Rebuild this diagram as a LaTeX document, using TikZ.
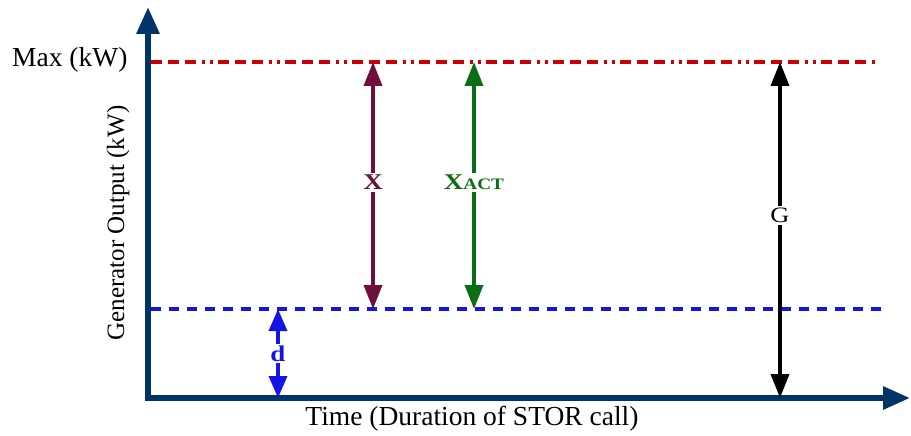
\documentclass[tikz,border=0pt]{standalone}
\usepackage{fontspec}
\setmainfont{Liberation Serif}
\usetikzlibrary{arrows.meta}
\definecolor{axisblue}{RGB}{0,51,102}
\definecolor{maxred}{RGB}{204,0,0}
\definecolor{baseblue}{RGB}{20,20,230}
\definecolor{xmaroon}{RGB}{110,15,60}
\definecolor{xgreen}{RGB}{10,110,20}
\tikzset{
  axisline/.style={line width=6pt, axisblue, -{Triangle[length=27pt,width=22pt]}},
  dimarrow/.style={line width=3.6pt, {Triangle[length=24pt,width=18pt]}-{Triangle[length=24pt,width=18pt]}},
  dimlabel/.style={fill=white, inner sep=2pt, xscale=1.2, font=\fontsize{22.5}{24}\selectfont\bfseries},
  axistext/.style={font=\fontsize{27.5}{30}\selectfont},
}
\begin{document}
\begin{tikzpicture}[x=1pt,y=-1pt]
\useasboundingbox (0,0) rectangle (911,436);
% axes
\coordinate (origin) at (148,398);
\coordinate (ytop) at (148,7);
\coordinate (xend) at (910,398);
\draw[axisline] ([yshift=-3pt]origin) -- (ytop);
\draw[axisline] ([xshift=-3pt]origin) -- (xend);
% reference levels
\coordinate (maxL) at (151,62);
\coordinate (maxR) at (880,62);
\coordinate (baseL) at (151,309);
\coordinate (baseR) at (886,309);
\draw[maxred, line width=3.5pt, dash pattern=on 11pt off 6pt on 11pt off 6pt on 11pt off 6pt on 3pt off 5pt on 3pt off 5pt] (maxL) -- (maxR);
\draw[baseblue, line width=3.5pt, dash pattern=on 10pt off 8pt] (baseL) -- (baseR);
% dimension end points
\coordinate (xt) at (373,62);  \coordinate (xb) at (373,309);
\coordinate (at) at (474,62);  \coordinate (ab) at (474,309);
\coordinate (gt) at (780,62);  \coordinate (gb) at (780,398);
\coordinate (dt) at (278,309); \coordinate (db) at (278,398);
\draw[dimarrow, xmaroon] (xt) -- (xb) node[dimlabel, pos=0.487] (lx) {X};
\draw[dimarrow, xgreen] (at) -- (ab) node[dimlabel, pos=0.487] (lxa) {X\fontsize{16}{18}\selectfont ACT};
\draw[dimarrow, black] (gt) -- (gb) node[dimlabel, pos=0.457, font=\fontsize{22}{24}\selectfont] (lg) {G};
\draw[dimarrow, baseblue, {Triangle[length=22pt,width=18pt]}-{Triangle[length=22pt,width=18pt]}] (dt) -- (db) node[dimlabel, pos=0.5] (ld) {d};
% axis texts
\node[axistext, anchor=east] (maxlab) at (131,60) {Max (kW)};
\node[axistext, rotate=90, font=\fontsize{25}{27}\selectfont] (ylab) at (118,223) {Generator Output (kW)};
\node[axistext] (xlab) at (472,419) {Time (Duration of STOR call)};
\end{tikzpicture}
\end{document}
